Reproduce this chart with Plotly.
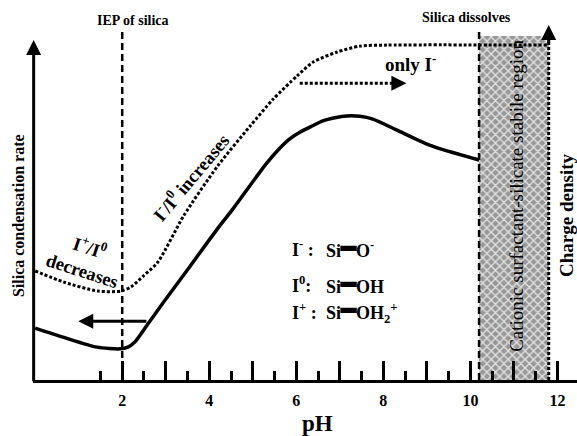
import plotly.graph_objects as go

# ---- data (pH vs. relative value) ----
ph_dotted = [0.0, 0.66, 1.44, 1.97, 2.20, 2.49, 2.82, 3.41, 4.19, 4.94, 5.47, 6.02, 6.39, 6.94, 7.46, 8.08, 11.8]
charge_dotted = [0.315, 0.283, 0.257, 0.257, 0.269, 0.301, 0.341, 0.474, 0.618, 0.734, 0.812,
                 0.879, 0.919, 0.948, 0.965, 0.968, 0.968]

ph_solid = [0.0, 0.64, 1.42, 1.95, 2.13, 2.29, 2.43, 2.59, 2.94, 3.56, 4.17, 4.54, 5.32, 5.62,
            5.85, 6.08, 6.36, 6.61, 6.89, 7.16, 7.46, 7.76, 8.30, 9.06, 10.2]
rate_solid = [0.150, 0.124, 0.095, 0.090, 0.095, 0.110, 0.133, 0.162, 0.223, 0.329, 0.434,
              0.494, 0.627, 0.670, 0.697, 0.716, 0.734, 0.749, 0.758, 0.763, 0.762, 0.754,
              0.723, 0.679, 0.636]

iep_ph = 2.0
region_ph = [10.2, 11.8]
region_top = 0.994

major_ticks = [2, 3, 4, 5, 6, 7, 8, 9, 10, 11, 12]
major_labels = ["2", "", "4", "", "6", "", "8", "", "10", "", "12"]
minor_ticks = [1.5, 2.5, 3.5, 4.5, 5.5, 6.5, 7.5, 8.5, 9.5, 10.5, 11.5]

BOND = "<span style='font-size:25px'>━</span>"
legend_species = ["I<sup>-</sup> :", "I<sup>0</sup>:", "I<sup>+</sup> :"]
legend_groups = ["Si" + BOND + "O<sup>-</sup>", "Si" + BOND + "OH",
                 "Si" + BOND + "OH<sub>2</sub><sup>+</sup>"]
legend_rows = [0.379, 0.275, 0.199]

X_RANGE = [-0.05, 12.45]
Y_MAX = 1.0405
FONT = "Liberation Serif"

fig = go.Figure()

# shaded stable region
fig.add_trace(go.Bar(
    x=[(region_ph[0] + region_ph[1]) / 2], y=[region_top], width=[region_ph[1] - region_ph[0]],
    marker=dict(color="#9a9a9a", line=dict(width=0),
                pattern=dict(shape="x", fillmode="replace", bgcolor="#979797",
                             fgcolor="#e2e2e2", size=6, solidity=0.4)),
    hoverinfo="skip", showlegend=False))

# dotted curve (charge density)
fig.add_trace(go.Scatter(
    x=ph_dotted, y=charge_dotted, mode="lines",
    line=dict(color="black", width=3, dash="3px,2px", shape="spline", smoothing=0.7),
    hoverinfo="skip", showlegend=False))

# solid curve (silica condensation rate)
fig.add_trace(go.Scatter(
    x=ph_solid, y=rate_solid, mode="lines",
    line=dict(color="black", width=3.5, shape="spline", smoothing=0.7),
    hoverinfo="skip", showlegend=False))

shapes = [
    dict(type="line", x0=iep_ph, x1=iep_ph, y0=0, y1=1.012,
         line=dict(color="black", width=2.5, dash="7px,4px")),
    dict(type="line", x0=region_ph[0], x1=region_ph[0], y0=0, y1=1.012,
         line=dict(color="black", width=2.5, dash="7px,4px")),
    dict(type="line", x0=region_ph[1], x1=region_ph[1], y0=0, y1=1.0,
         line=dict(color="black", width=3, dash="3px,2px")),
    dict(type="line", x0=6.08, x1=8.3, y0=0.858, y1=0.858,
         line=dict(color="black", width=3, dash="3px,2px")),
]


def arrow(x, y, ax, ay, w=3, size=1.0):
    return dict(x=x, y=y, ax=ax, ay=ay, xref="x", yref="y", axref="x", ayref="y",
                text="", showarrow=True, arrowhead=2, arrowsize=size, arrowwidth=w,
                arrowcolor="black")


def label(text, x, y, size=16, angle=0, xref="x", yref="y", anchor="center", bold=True):
    return dict(text=("<b>%s</b>" % text) if bold else text, x=x, y=y, xref=xref, yref=yref,
                showarrow=False, textangle=angle, xanchor=anchor, yanchor="middle",
                font=dict(family=FONT, size=size, color="black"))


annotations = [
    arrow(-0.035, 0.983, -0.035, -0.008),            # y axis arrow
    arrow(12.42, -0.0043, 12.0, -0.0043),            # x axis arrow head
    arrow(region_ph[1], 1.026, region_ph[1], 0.97),  # charge density arrow head
    arrow(0.99, 0.17, 2.59, 0.17),                   # solid arrow to the left
    arrow(8.53, 0.858, 8.25, 0.858),                 # dotted arrow head
    label("IEP of silica", 2.25, 1.0, size=14, yref="paper"),
    label("Silica dissolves", 9.92, 1.006, size=14, yref="paper"),
    label("only I<sup>-</sup>", 8.63, 0.916, size=19),
    label("I<sup>-</sup>/I<sup>0</sup> increases", 3.56, 0.587, size=18.5, angle=-50),
    label("I<sup>+</sup>/I<sup>0</sup><br>decreases", 1.17, 0.353, size=18.5, angle=18),
    label("Cationic surfactant-silicate stabile region", 11.07, 0.532, size=19, angle=-90, bold=False),
    label("Silica condensation rate", -0.0276, 0.458, size=16, angle=-90, xref="paper", yref="paper"),
    label("Charge density", 12.22, 0.477, size=19, angle=-90),
    label("pH", 6.48, -0.121, size=23, yref="paper"),
]
for sp, grp, row in zip(legend_species, legend_groups, legend_rows):
    annotations.append(label(sp, 5.86, row, size=18, anchor="left"))
    annotations.append(label(grp, 6.63, row, size=18, anchor="left"))

fig.update_layout(
    width=577, height=436,
    margin=dict(l=33, r=0, t=20, b=56),
    paper_bgcolor="white", plot_bgcolor="white",
    shapes=shapes, annotations=annotations,
    showlegend=False, bargap=0,
    font=dict(family=FONT, color="black"),
    xaxis=dict(range=X_RANGE, showgrid=False, zeroline=False,
               showline=True, linewidth=3, linecolor="black",
               ticks="inside", ticklen=19, tickwidth=3, tickcolor="black",
               tickvals=major_ticks, ticktext=major_labels, ticklabelstandoff=4,
               tickfont=dict(family=FONT, size=16, color="black", weight="bold"),
               minor=dict(tickvals=minor_ticks, ticks="inside", ticklen=9,
                          tickwidth=3, tickcolor="black")),
    yaxis=dict(range=[0, Y_MAX], showgrid=False, zeroline=False, showline=False,
               showticklabels=False, ticks=""),
)

fig.write_html("out.html", config={"displayModeBar": False},
               post_script="document.body.style.margin='0';document.body.style.overflow='hidden';")
